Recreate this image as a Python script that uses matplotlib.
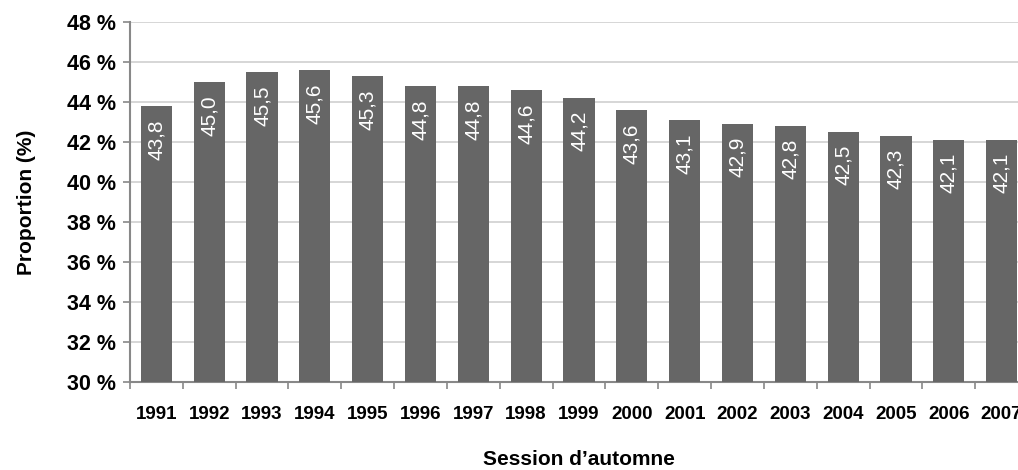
import matplotlib
matplotlib.use("Agg")
import matplotlib.pyplot as plt
import numpy as np

plt.rcParams['font.family'] = ['Liberation Sans', 'DejaVu Sans']

years = ['1991', '1992', '1993', '1994', '1995', '1996', '1997', '1998', '1999',
         '2000', '2001', '2002', '2003', '2004', '2005', '2006', '2007']
values = [43.8, 45.0, 45.5, 45.6, 45.3, 44.8, 44.8, 44.6, 44.2,
          43.6, 43.1, 42.9, 42.8, 42.5, 42.3, 42.1, 42.1]
yticks = [30, 32, 34, 36, 38, 40, 42, 44, 46, 48]

fig = plt.figure(figsize=(10.18, 4.70), dpi=100)
# axes runs a bit past the right edge, as in the original (2007 is cut off)
ax = fig.add_axes([130 / 1018, 88 / 470, 898 / 1018, 360 / 470])

x = np.arange(len(years))
bars = ax.bar(x, values, width=0.59, color='#666666', zorder=3)

for xi, v in zip(x, values):
    ax.text(xi, v - 0.65, f'{v:.1f}'.replace('.', ','), rotation=90,
            ha='center', va='top', color='white', fontsize=15, zorder=4)

ax.set_xlim(-0.5, len(years) - 0.5)
ax.set_ylim(30, 48)
ax.set_yticks(yticks)
ax.set_yticklabels([f'{t} %' for t in yticks], fontsize=15.5, fontweight='bold')
ax.set_xticks(x)
ax.set_xticklabels(years, fontsize=13.5, fontweight='bold')
ax.tick_params(axis='x', length=0, pad=17)
ax.set_xticks(np.arange(len(years) + 1) - 0.5, minor=True)
ax.tick_params(axis='x', which='minor', length=5, color='#888888', width=1.2)
ax.tick_params(axis='y', length=5, color='#888888', width=1.2, pad=5)

ax.grid(axis='y', color='#d0d0d0', linewidth=1.2, zorder=0)
for s in ['top', 'right']:
    ax.spines[s].set_visible(False)
for s in ['left', 'bottom']:
    ax.spines[s].set_color('#888888')
    ax.spines[s].set_linewidth(1.5)

ax.set_ylabel('Proportion (%)', fontsize=15, fontweight='bold', labelpad=22)
ax.set_xlabel('Session d\u2019automne', fontsize=15, fontweight='bold', labelpad=20)

fig.savefig('out.png', dpi=100)
